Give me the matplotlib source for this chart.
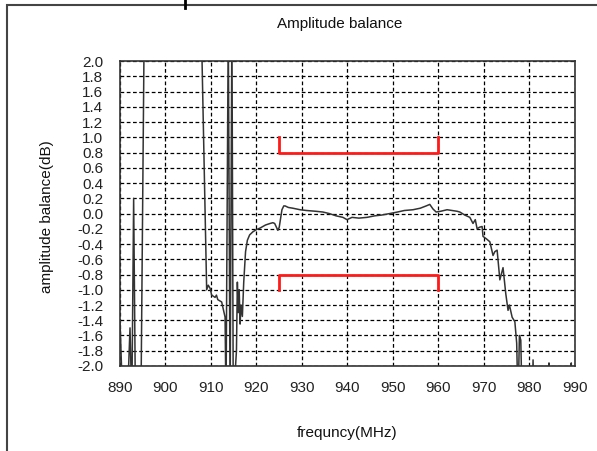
import numpy as np
import matplotlib
matplotlib.use('Agg')
import matplotlib.pyplot as plt
from matplotlib.patches import Rectangle
from matplotlib.lines import Line2D

plt.rcParams['font.family'] = ['Liberation Sans', 'DejaVu Sans']

# measured amplitude balance (values outside +-2 dB run off the plot)
freq = [890.0, 890.6, 891.6, 892.2, 892.6, 893.0, 893.4, 894.6, 895.4, 907.7,
        909.05, 909.4, 909.8, 910.15, 910.9, 911.2, 911.5, 912.35, 913.1, 913.3,
        913.8, 914.2, 914.6, 914.9, 915.6, 915.8, 916.0, 916.2, 916.4, 916.6,
        916.9, 917.2, 917.6, 918.0, 918.5, 919.2, 920.0, 920.8, 922.0, 923.0,
        923.6, 924.0, 924.7, 925.0, 925.6, 926.0, 926.3, 927.0, 928.0, 929.6,
        931.0, 933.0, 934.6, 936.0, 937.5, 939.0, 939.9, 941.0, 942.5, 944.3,
        946.0, 947.5, 949.3, 951.0, 952.5, 954.4, 956.0, 957.3, 958.1, 958.8,
        959.5, 960.5, 961.9, 963.0, 964.1, 964.7, 965.8, 966.9, 967.6, 968.1,
        968.5, 969.0, 969.6, 969.8, 970.5, 971.3, 972.0, 972.4, 972.9, 973.5,
        974.2, 974.8, 975.3, 975.6, 976.2, 976.8, 977.2, 977.5, 977.8, 978.1,
        978.4, 980.6, 980.8, 981.0, 984.2, 984.3, 984.4, 989.1, 989.2, 989.3, 990.0]
balance = [-1.4, -2.5, -2.5, -1.5, -2.5, 0.2, -2.5, -2.5, 3.0, 3.0,
           -1.0, -0.94, -0.98, -1.07, -1.1, -1.07, -1.13, -1.16, -1.36, -2.5,
           2.5, -2.5, 2.5, -2.5, -1.8, -0.9, -1.3, -1.0, -1.45, -1.2,
           -1.35, -0.9, -0.5, -0.35, -0.28, -0.24, -0.21, -0.19, -0.15, -0.13,
           -0.12, -0.13, -0.22, -0.18, 0.05, 0.1, 0.1, 0.08, 0.07, 0.05,
           0.04, 0.03, 0.02, 0.0, -0.03, -0.05, -0.08, -0.05, -0.06, -0.05,
           -0.03, -0.02, 0.0, 0.02, 0.04, 0.05, 0.07, 0.1, 0.12, 0.06,
           0.02, 0.03, 0.05, 0.04, 0.03, 0.02, -0.02, -0.05, -0.13, -0.08,
           -0.2, -0.18, -0.17, -0.3, -0.33, -0.37, -0.55, -0.5, -0.48, -0.87,
           -0.71, -1.05, -1.27, -1.2, -1.36, -1.42, -1.7, -2.5, -1.6, -1.66,
           -2.5, -2.5, -1.92, -2.5, -2.5, -1.96, -2.5, -2.5, -1.96, -2.5, -2.5]

# spec limit brackets
spec_lo, spec_hi = 925, 960
limit_upper = 0.8
limit_lower = -0.8
bracket_tip = 0.2

xticks = list(range(890, 1000, 10))
yticks = [round(-2.0 + 0.2 * i, 1) for i in range(21)]
ytick_labels = ['%.1f' % v if abs(v) > 1e-9 else '0.0' for v in yticks]

fig = plt.figure(figsize=(5.97, 4.51), dpi=100)
ax = fig.add_axes([0.201, 0.1885, 0.762, 0.676])

ax.plot(freq, balance, color='#333333', linewidth=1.1)

ax.plot([spec_lo, spec_lo, spec_hi, spec_hi],
        [limit_upper + bracket_tip, limit_upper, limit_upper, limit_upper + bracket_tip],
        color='#ff1a1a', linewidth=2)
ax.plot([spec_lo, spec_lo, spec_hi, spec_hi],
        [limit_lower - bracket_tip, limit_lower, limit_lower, limit_lower - bracket_tip],
        color='#ff1a1a', linewidth=2)

ax.set_xlim(890, 990)
ax.set_ylim(-2.0, 2.0)
ax.set_xticks(xticks)
ax.set_yticks(yticks)
ax.set_yticklabels(ytick_labels)
ax.tick_params(axis='both', length=0, labelsize=11, colors='#222222')
ax.tick_params(axis='y', pad=12)
ax.tick_params(axis='x', pad=11)
ax.grid(True, color='black', linestyle=(0, (3, 2)), linewidth=0.9)
for s in ax.spines.values():
    s.set_color('#333333')
    s.set_linewidth(1.2)

fig.text(340 / 597, 1 - 24 / 451, 'Amplitude balance', fontsize=11,
         ha='center', va='center', color='#111111')
ax.set_xlabel('frequncy(MHz)', fontsize=11, color='#111111')
ax.xaxis.set_label_coords(0.5, (366 - 433) / 305)
ax.xaxis.label.set_verticalalignment('center')
ax.set_ylabel('amplitude balance(dB)', fontsize=11, color='#111111')
ax.yaxis.set_label_coords((47 - 120) / 455, 0.49)
ax.yaxis.label.set_verticalalignment('center')

# outer frame
fig.patches.append(Rectangle((7 / 597, -0.1), 1.2, (446 / 451) + 0.1,
                             transform=fig.transFigure, fill=False,
                             edgecolor='#444444', linewidth=1.5))
fig.lines.append(Line2D([185 / 597, 185 / 597], [1.0, 1 - 8 / 451],
                        transform=fig.transFigure, color='black', linewidth=2))

fig.savefig('out.png', dpi=100)
